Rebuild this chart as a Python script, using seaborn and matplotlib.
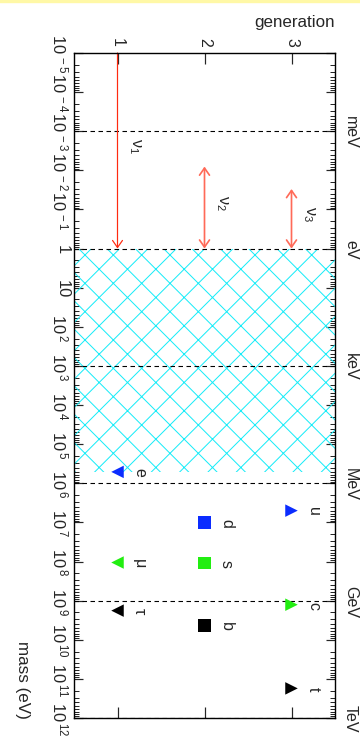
import numpy as np
import pandas as pd
import matplotlib
matplotlib.use('Agg')
import matplotlib.pyplot as plt
from matplotlib.ticker import LogLocator, NullFormatter
from matplotlib.patches import ArrowStyle, Rectangle
import seaborn as sns

sns.set_style('ticks')
plt.rcParams['font.family'] = ['Liberation Sans', 'DejaVu Sans']
plt.rcParams['lines.scale_dashes'] = False

DPI = 170  # hatch spacing scales with dpi, this gives ~28px cells


def px(v):
    return v * 72.0 / DPI


# charged fermions: column on the "generation" axis, mass in eV
particles = ['e', 'μ', 'τ', 'd', 's', 'b', 'u', 'c', 't']
column = [1, 1, 1, 2, 2, 2, 3, 3, 3]
mass_ev = [5.11e5, 1.06e8, 1.8e9, 1.0e7, 1.1e8, 4.3e9, 5.0e6, 1.27e9, 1.75e11]
family = ['I', 'II', 'III', 'I', 'II', 'III', 'I', 'II', 'III']
kind = ['lepton', 'lepton', 'lepton', 'down', 'down', 'down', 'up', 'up', 'up']

# neutrinos
nu_names = ['ν_1', 'ν_2', 'ν_3']
nu_column = [1, 2, 3]
nu_low = [1e-5, 8e-3, 3e-2]
nu_high = [1.0, 1.0, 1.0]
nu_upper_limit = [True, False, False]

# energy units
units = ['meV', 'eV', 'keV', 'MeV', 'GeV', 'TeV']
unit_ev = [1e-3, 1.0, 1e3, 1e6, 1e9, 1e12]

# hatched (excluded) band
band_low, band_high = 1.0, 5.11e5

gen_ticks = [1, 2, 3]
mass_exp = list(range(-5, 13))

df = pd.DataFrame({'particle': particles, 'column': column, 'mass': mass_ev,
                   'family': family, 'kind': kind})

fig = plt.figure(figsize=(360 / DPI, 740 / DPI), dpi=DPI)
fig.patches.append(Rectangle((0, 1 - 2.5 / 740), 1, 2.5 / 740, transform=fig.transFigure,
                             color='#fff8a6', zorder=10))
ax = fig.add_axes([74 / 360, 21 / 740, 261 / 360, 665 / 740])

ax.set_yscale('log')
ax.set_xlim(0.5, 3.5)
ax.set_ylim(1e12, 1e-5)

# hatched band
plt.rcParams['hatch.linewidth'] = px(1.0)
ax.axhspan(band_low, band_high, facecolor='none', edgecolor='#18ecf8', hatch='xx',
           linewidth=0, zorder=1)

# unit lines and labels
for u, v in zip(units, unit_ev):
    ax.axhline(v, color='black', lw=px(1.1), linestyle=(0, (px(4.5), px(3.5))), zorder=2)
    ax.annotate(u, xy=(1, v), xycoords=('axes fraction', 'data'), xytext=(px(8), 0),
                textcoords='offset points', ha='left', va='center', rotation=-90,
                fontsize=px(16), annotation_clip=False)

# neutrino mass ranges
for name, col, lo, hi, lim in zip(nu_names, nu_column, nu_low, nu_high, nu_upper_limit):
    if lim:
        style = ArrowStyle('->', head_length=0.43, head_width=0.3)
        color, lw = '#ff2a10', px(1.2)
    else:
        style = ArrowStyle('<->', head_length=0.43, head_width=0.3)
        color, lw = '#ff6a58', px(1.7)
    ax.annotate('', xy=(col, hi), xytext=(col, lo),
                arrowprops=dict(arrowstyle=style, color=color, lw=lw, shrinkA=0, shrinkB=0,
                                mutation_scale=7), zorder=4)
    mid = np.sqrt(lo * hi)
    ax.annotate(r'$\mathregular{%s}$' % name, xy=(col, mid), xytext=(px(17), px(6)),
                textcoords='offset points', ha='center', va='center', rotation=-90,
                fontsize=px(16))

# charged fermions
sns.scatterplot(data=df, x='column', y='mass', hue='family', style='kind',
                palette={'I': '#0b2cff', 'II': '#22ee11', 'III': 'black'},
                markers={'lepton': '<', 'down': 's', 'up': '>'},
                s=px(12.5) ** 2, linewidth=0, legend=False, ax=ax, zorder=5)
for name, col, m in zip(particles, column, mass_ev):
    ax.annotate(name, xy=(col, m), xytext=(px(22), 0), textcoords='offset points',
                ha='center', va='center', rotation=-90, fontsize=px(16))

# axes / ticks
ax.set_xticks(gen_ticks)
ax.set_xticklabels([str(g) for g in gen_ticks])
ax.xaxis.set_ticks_position('both')
ax.tick_params(axis='x', which='both', direction='in', length=px(11), width=px(1.2),
               top=True, bottom=True, labeltop=True, labelbottom=False,
               labelrotation=-90, pad=px(7), labelsize=px(16))
ax.xaxis.set_minor_locator(plt.NullLocator())


def mass_label(k):
    if k == 0:
        return '1'
    if k == 1:
        return '10'
    return r'$\mathregular{10^{\,%d}}$' % k


ax.set_yticks([10.0 ** k for k in mass_exp])
ax.set_yticklabels([mass_label(k) for k in mass_exp])
ax.yaxis.set_minor_locator(LogLocator(base=10, subs=np.arange(2, 10), numticks=200))
ax.yaxis.set_minor_formatter(NullFormatter())
ax.yaxis.set_ticks_position('both')
ax.tick_params(axis='y', which='major', direction='in', length=px(9), width=px(1.2),
               left=True, right=True, labelrotation=-90, pad=px(4), labelsize=px(16.5))
ax.tick_params(axis='y', which='minor', direction='in', length=px(5), width=px(1.0),
               left=True, right=True)
for lab in ax.get_yticklabels():
    lab.set_va('center')

for sp in ax.spines.values():
    sp.set_linewidth(px(1.4))
    sp.set_color('black')
    sp.set_zorder(6)

ax.xaxis.set_label_position('top')
ax.set_xlabel('generation', fontsize=px(17), ha='right')
ax.xaxis.set_label_coords(1.0, 1 + 27 / 665)
ax.set_ylabel('mass (eV)', fontsize=px(17), rotation=-90, ha='right', va='center')
ax.yaxis.set_label_coords(-52 / 261, 0.0)

fig.savefig('out.png', dpi=DPI, facecolor='white')
